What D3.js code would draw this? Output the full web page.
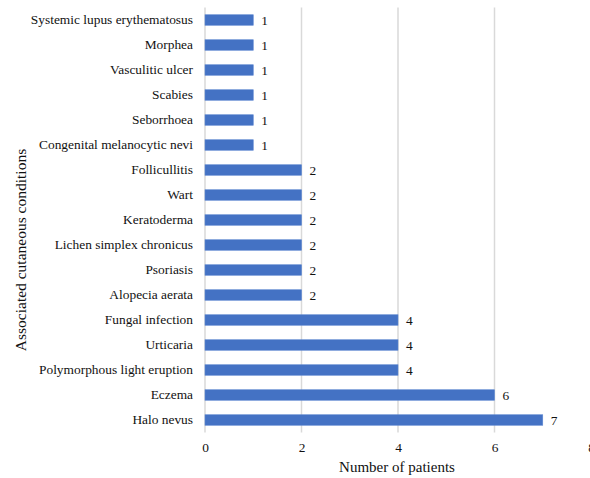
<!DOCTYPE html>
<html>
<head>
<meta charset="utf-8">
<script src="https://cdn.jsdelivr.net/npm/d3@7"></script>
<style>
  html, body { margin: 0; padding: 0; background: #fff; }
  svg { display: block; }
</style>
</head>
<body>
<svg id="chart" width="590" height="478" font-family="Liberation Serif"></svg>
<script>
// Associated cutaneous conditions, listed top to bottom
const conditions = [
  "Systemic lupus erythematosus",
  "Morphea",
  "Vasculitic ulcer",
  "Scabies",
  "Seborrhoea",
  "Congenital melanocytic nevi",
  "Follicullitis",
  "Wart",
  "Keratoderma",
  "Lichen simplex chronicus",
  "Psoriasis",
  "Alopecia aerata",
  "Fungal infection",
  "Urticaria",
  "Polymorphous light eruption",
  "Eczema",
  "Halo nevus"
];
const patients = [1, 1, 1, 1, 1, 1, 2, 2, 2, 2, 2, 2, 4, 4, 4, 6, 7];
const xTicks = [0, 2, 4, 6, 8];

const serif = "Liberation Serif";
const margin = { top: 7.5, left: 205, right: -1, bottom: 45.5 };
const W = 590, H = 478;
const svg = d3.select("#chart");

const x = d3.scaleLinear().domain([0, 8]).range([margin.left, W - margin.right]);
const y = d3.scaleBand().domain(conditions).range([margin.top, H - margin.bottom]).paddingInner(0.58).paddingOuter(0.29);

// vertical gridlines
svg.append("g")
  .selectAll("line")
  .data(xTicks)
  .join("line")
  .attr("x1", d => x(d)).attr("x2", d => x(d))
  .attr("y1", margin.top).attr("y2", H - margin.bottom)
  .attr("stroke", "#d9d9d9")
  .attr("stroke-width", 1.5);

// bars
svg.append("g")
  .selectAll("rect")
  .data(conditions)
  .join("rect")
  .attr("x", x(0))
  .attr("y", d => y(d))
  .attr("width", (d, i) => x(patients[i]) - x(0))
  .attr("height", y.bandwidth())
  .attr("fill", "#4472c4")
  .attr("stroke", "#5b86d1")
  .attr("stroke-width", 0.6);

// value labels
svg.append("g")
  .attr("font-family", serif)
  .attr("font-size", 13.4)
  .selectAll("text")
  .data(conditions)
  .join("text")
  .attr("x", (d, i) => x(patients[i]) + 8)
  .attr("y", d => y(d) + y.bandwidth() / 2)
  .attr("dy", "0.35em")
  .attr("fill", "#111")
  .text((d, i) => patients[i]);

// category axis
const yAxis = svg.append("g")
  .attr("transform", `translate(${x(0)},0)`)
  .call(d3.axisLeft(y).tickSize(0).tickPadding(12));
yAxis.attr("font-family", serif).attr("font-size", 13.4);
yAxis.select(".domain").remove();
yAxis.selectAll("text").attr("fill", "#111").attr("font-family", serif);

// value axis
const xAxis = svg.append("g")
  .attr("transform", `translate(0,${H - margin.bottom})`)
  .call(d3.axisBottom(x).tickValues(xTicks).tickSize(0).tickPadding(10));
xAxis.attr("font-family", serif).attr("font-size", 13.4);
xAxis.select(".domain").remove();
xAxis.selectAll("text").attr("fill", "#111").attr("font-family", serif);

// axis titles
svg.append("text")
  .attr("x", 397)
  .attr("y", 472)
  .attr("text-anchor", "middle")
  .attr("font-family", serif)
  .attr("font-size", 15)
  .attr("fill", "#111")
  .text("Number of patients");

svg.append("text")
  .attr("transform", "translate(26,250) rotate(-90)")
  .attr("text-anchor", "middle")
  .attr("font-family", serif)
  .attr("font-size", 15.5)
  .attr("fill", "#111")
  .text("Associated cutaneous conditions");
</script>
</body>
</html>
